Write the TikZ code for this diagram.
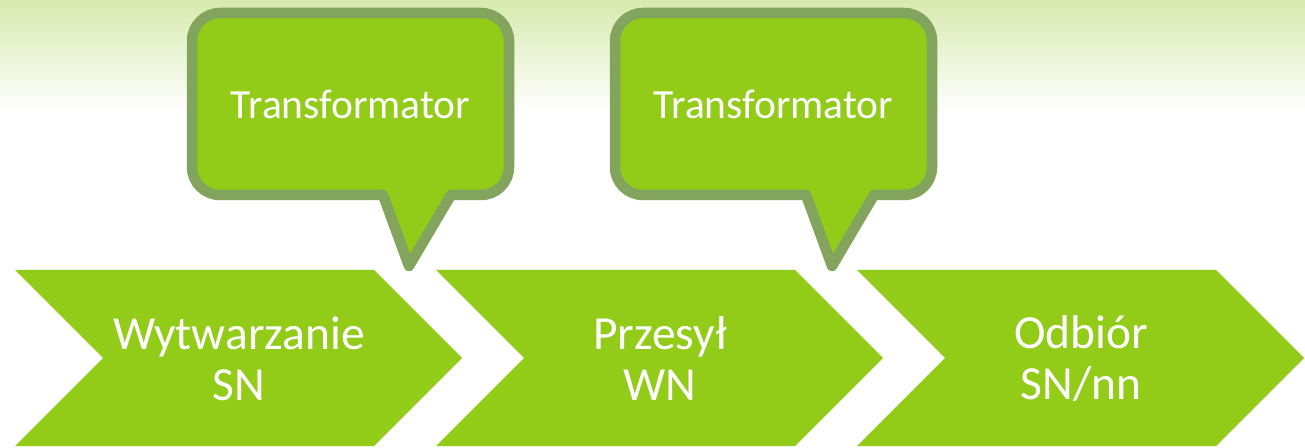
\documentclass[tikz,border=0pt]{standalone}
\usepackage{fontspec}
\setmainfont{Carlito}
\definecolor{chev}{RGB}{146,204,24}
\definecolor{callborder}{RGB}{131,164,92}
\definecolor{bgtop}{RGB}{216,234,174}
\begin{document}
\begin{tikzpicture}[x=1pt,y=1pt,
  chevron/.style={fill=chev,draw=none},
  callout/.style={fill=chev,draw=callborder,line width=10.5pt,line join=round},
  chevtext/.style={text=white,align=center,font=\fontsize{47.5}{51}\selectfont},
  calltext/.style={text=white,font=\fontsize{41.5}{46}\selectfont}]
\useasboundingbox (0,0) rectangle (1305,447);
\shade[top color=bgtop,bottom color=white] (0,447) rectangle (1305,335);
\fill[white] (0,335) rectangle (1305,0);
% chevrons
\foreach \dx in {0,421,842}{
  \path[chevron] (15+\dx,177) -- (374+\dx,177) -- (462+\dx,89) -- (374+\dx,1) -- (15+\dx,1) -- (103+\dx,89) -- cycle;
}
\node[chevtext] (c1) at (239,88) {Wytwarzanie\\SN};
\node[chevtext] (c2) at (660,88) {Przesył\\WN};
\node[chevtext] (c3) at (1081,88) {Odbiór\\SN/nn};
% callouts
\foreach \dx in {0,423}{
  \draw[callout] (383+\dx,252) [rounded corners=28] -- (192+\dx,252) -- (192+\dx,434) -- (509+\dx,434) -- (509+\dx,252) [sharp corners] -- (451+\dx,252) -- (409+\dx,181) -- cycle;
}
\node[calltext] (t1) at (350.5,343) {Transformator};
\node[calltext] (t2) at (773.5,343) {Transformator};
\end{tikzpicture}
\end{document}
